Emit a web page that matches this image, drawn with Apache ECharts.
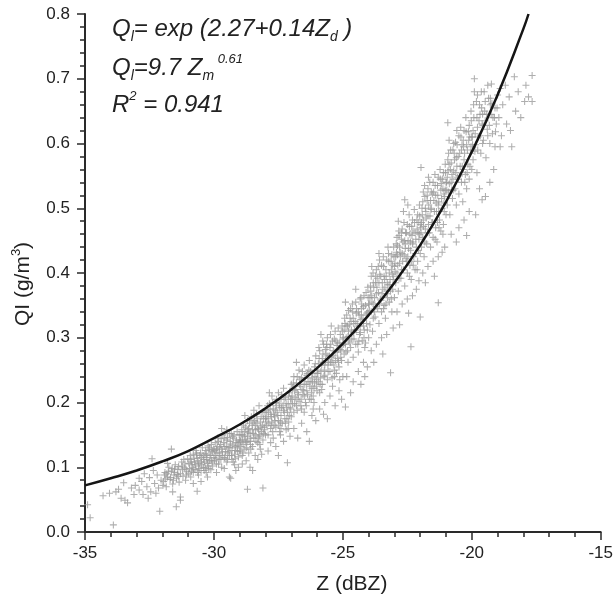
<!DOCTYPE html>
<html>
<head>
<meta charset="utf-8">
<script src="https://cdn.jsdelivr.net/npm/echarts@6/dist/echarts.min.js"></script>
<style>
  html, body { margin: 0; padding: 0; background: #fff; }
  #main { width: 616px; height: 604px; }
</style>
</head>
<body>
<div id="main"></div>
<script>
// tick labels
var xTicks = [-35, -30, -25, -20, -15];
var yTicks = [0.0, 0.1, 0.2, 0.3, 0.4, 0.5, 0.6, 0.7, 0.8];

// fitted curve
var curveZ = [-35, -34, -33, -32, -31, -30, -29, -28, -27, -26, -25, -24, -23, -22, -21, -20, -19, -18, -17.8];
var curveQ = [0.072, 0.083, 0.095, 0.109, 0.125, 0.145, 0.166, 0.191, 0.220, 0.253, 0.291, 0.335, 0.385, 0.443, 0.510, 0.587, 0.675, 0.777, 0.800];

var cloudLow = [
  [-34.9,.042],[-34.8,.022],[-34.3,.056],[-34.05,.060],
  [-33.9,.011],[-33.8,.062],[-33.6,.052],[-33.5,.076],[-33.45,.049],[-33.35,.045],[-33.2,.068],[-33.1,.058],[-33.05,.072],[-33.7,.066],
  [-32.9,.065],[-32.8,.078],[-32.75,.058],[-32.6,.070],[-32.5,.084],[-32.45,.062],[-32.3,.075],[-32.2,.088],[-32.15,.068],[-32.1,.032],[-32.05,.080],[-32.7,.090],[-32.35,.095],[-32.55,.052],[-32.9,.083],[-32.25,.060],[-32.4,.113],
  [-31.95,.078],[-31.9,.092],[-31.85,.070],[-31.8,.085],[-31.75,.100],[-31.7,.081],[-31.65,.094],[-31.6,.074],[-31.55,.088],[-31.5,.104],[-31.46,.039],[-31.45,.083],[-31.4,.097],[-31.35,.077],[-31.3,.090],[-31.3,.054],[-31.25,.108],[-31.2,.086],[-31.15,.099],[-31.1,.080],[-31.05,.093],[-31.02,.113],[-31.8,.106],[-31.6,.062],[-31.3,.049],[-31.65,.128],
  [-30.95,.098],[-30.9,.112],[-30.9,.085],[-30.85,.104],[-30.8,.120],[-30.8,.092],[-30.75,.108],[-30.7,.096],[-30.7,.126],[-30.65,.063],[-30.65,.114],[-30.6,.102],[-30.6,.088],[-30.55,.118],[-30.5,.108],[-30.5,.095],[-30.45,.130],[-30.4,.112],[-30.4,.100],[-30.35,.121],[-30.3,.092],[-30.3,.115],[-30.25,.106],[-30.2,.127],[-30.2,.098],[-30.15,.118],[-30.1,.110],[-30.1,.135],[-30.05,.102],[-30.05,.124],[-30.5,.078],[-30.25,.085],[-30.0,.115],[-30.8,.075],
  [-29.95,.118],[-29.95,.138],[-29.9,.105],[-29.9,.128],[-29.85,.145],[-29.8,.112],[-29.8,.122],[-29.75,.135],[-29.7,.100],[-29.7,.128],[-29.65,.150],[-29.6,.115],[-29.6,.132],[-29.55,.124],[-29.5,.108],[-29.5,.142],[-29.45,.130],[-29.4,.085],[-29.4,.118],[-29.4,.152],[-29.35,.136],[-29.3,.112],[-29.3,.126],[-29.25,.145],[-29.2,.120],[-29.2,.104],[-29.15,.138],[-29.1,.130],[-29.1,.155],[-29.05,.116],[-29.0,.142],[-29.0,.125],[-29.9,.092],[-29.6,.098],[-29.35,.083],[-29.15,.095],[-29.7,.160],[-29.25,.108],[-29.5,.158],[-29.05,.100],
  [-28.95,.132],[-28.95,.150],[-28.9,.118],[-28.9,.142],[-28.85,.165],[-28.8,.128],[-28.8,.155],[-28.75,.138],[-28.7,.066],[-28.7,.148],[-28.7,.172],[-28.65,.122],[-28.65,.160],[-28.6,.140],[-28.6,.152],[-28.55,.178],[-28.5,.132],[-28.5,.158],[-28.45,.145],[-28.4,.118],[-28.4,.165],[-28.4,.150],[-28.35,.182],[-28.3,.138],[-28.3,.160],[-28.25,.148],[-28.2,.170],[-28.2,.128],[-28.15,.155],[-28.1,.068],[-28.1,.142],[-28.1,.185],[-28.05,.162],[-28.0,.150],[-28.0,.175],[-28.9,.105],[-28.6,.100],[-28.3,.112],[-28.5,.095],[-28.15,.120],[-28.8,.180],[-28.45,.188],[-28.25,.195],[-28.75,.110]
];
var cloudMid = [
  [-27.95,.165],[-27.95,.188],[-27.9,.150],[-27.9,.175],[-27.85,.198],[-27.8,.160],[-27.8,.182],[-27.75,.170],[-27.75,.210],[-27.7,.145],[-27.7,.190],[-27.65,.178],[-27.6,.162],[-27.6,.200],[-27.55,.185],[-27.5,.172],[-27.5,.215],[-27.45,.155],[-27.45,.192],[-27.4,.180],[-27.4,.205],[-27.35,.168],[-27.3,.188],[-27.3,.222],[-27.25,.175],[-27.2,.158],[-27.2,.198],[-27.15,.185],[-27.1,.170],[-27.1,.210],[-27.05,.192],[-27.0,.178],[-27.0,.228],[-27.9,.125],[-27.6,.132],[-27.3,.140],[-27.15,.107],[-27.5,.118],[-27.05,.148],[-27.8,.138],[-27.4,.160],[-27.85,.215],
  [-26.95,.198],[-26.95,.222],[-26.9,.185],[-26.9,.240],[-26.85,.208],[-26.8,.195],[-26.8,.230],[-26.75,.215],[-26.7,.250],[-26.7,.202],[-26.65,.225],[-26.6,.190],[-26.6,.238],[-26.55,.212],[-26.5,.258],[-26.5,.228],[-26.45,.200],[-26.4,.242],[-26.4,.218],[-26.35,.232],[-26.3,.265],[-26.3,.205],[-26.25,.248],[-26.2,.222],[-26.2,.238],[-26.15,.210],[-26.1,.255],[-26.1,.230],[-26.05,.272],[-26.0,.218],[-26.0,.245],[-26.9,.160],[-26.6,.168],[-26.4,.155],[-26.2,.180],[-26.05,.172],[-26.75,.145],[-26.3,.140],[-26.5,.185],[-26.8,.262],[-26.15,.190],
  [-25.95,.232],[-25.95,.260],[-25.9,.215],[-25.9,.280],[-25.85,.248],[-25.8,.228],[-25.8,.268],[-25.75,.290],[-25.7,.242],[-25.7,.258],[-25.65,.275],[-25.6,.235],[-25.6,.300],[-25.55,.262],[-25.5,.248],[-25.5,.285],[-25.45,.270],[-25.4,.225],[-25.4,.295],[-25.35,.258],[-25.3,.278],[-25.3,.310],[-25.25,.245],[-25.2,.268],[-25.2,.292],[-25.15,.255],[-25.1,.282],[-25.1,.305],[-25.05,.265],[-25.0,.240],[-25.0,.298],[-25.9,.190],[-25.7,.200],[-25.5,.210],[-25.3,.195],[-25.15,.218],[-25.6,.175],[-25.05,.205],[-25.85,.305],[-25.45,.318],[-25.75,.182],
  [-24.95,.275],[-24.95,.312],[-24.9,.193],[-24.9,.290],[-24.85,.335],[-24.8,.262],[-24.8,.302],[-24.75,.320],[-24.7,.285],[-24.7,.345],[-24.65,.298],[-24.6,.270],[-24.6,.330],[-24.55,.312],[-24.5,.290],[-24.5,.355],[-24.45,.322],[-24.4,.278],[-24.4,.340],[-24.35,.305],[-24.3,.328],[-24.3,.362],[-24.25,.295],[-24.2,.318],[-24.2,.348],[-24.15,.285],[-24.1,.335],[-24.1,.370],[-24.05,.312],[-24.0,.300],[-24.0,.352],[-24.85,.240],[-24.6,.232],[-24.4,.248],[-24.2,.262],[-24.05,.255],[-24.7,.215],[-24.3,.228],[-24.5,.375],[-24.9,.355],[-24.15,.240]
];
var cloudHigh = [
  [-23.95,.320],[-23.95,.362],[-23.9,.340],[-23.9,.395],[-23.85,.310],[-23.8,.352],[-23.8,.378],[-23.75,.332],[-23.7,.368],[-23.7,.405],[-23.65,.345],[-23.6,.322],[-23.6,.385],[-23.55,.360],[-23.5,.340],[-23.5,.412],[-23.45,.375],[-23.4,.350],[-23.4,.395],[-23.35,.330],[-23.3,.368],[-23.3,.420],[-23.25,.382],[-23.2,.355],[-23.2,.400],[-23.15,.372],[-23.1,.340],[-23.1,.428],[-23.05,.390],[-23.0,.362],[-23.0,.410],[-23.9,.280],[-23.7,.290],[-23.5,.300],[-23.3,.305],[-23.15,.246],[-23.05,.315],[-23.8,.262],[-23.45,.275],[-23.6,.430],[-23.25,.440],
  [-22.95,.385],[-22.95,.425],[-22.9,.400],[-22.9,.455],[-22.85,.372],[-22.8,.415],[-22.8,.440],[-22.75,.392],[-22.7,.430],[-22.7,.468],[-22.65,.405],[-22.6,.380],[-22.6,.450],[-22.6,.513],[-22.55,.422],[-22.5,.400],[-22.5,.475],[-22.45,.438],[-22.4,.412],[-22.4,.460],[-22.36,.286],[-22.35,.390],[-22.3,.445],[-22.3,.482],[-22.25,.425],[-22.2,.405],[-22.2,.462],[-22.15,.440],[-22.1,.418],[-22.1,.490],[-22.05,.452],[-22.0,.430],[-22.0,.332],[-22.0,.475],[-22.9,.340],[-22.7,.352],[-22.5,.360],[-22.3,.365],[-22.15,.375],[-22.8,.320],[-22.45,.338],[-22.05,.388],[-22.85,.480],[-22.65,.495],
  [-21.95,.440],[-21.95,.478],[-21.9,.455],[-21.9,.510],[-21.85,.425],[-21.8,.468],[-21.8,.500],[-21.75,.445],[-21.7,.488],[-21.7,.530],[-21.65,.462],[-21.6,.440],[-21.6,.512],[-21.55,.478],[-21.5,.455],[-21.5,.540],[-21.45,.495],[-21.4,.470],[-21.4,.520],[-21.35,.448],[-21.3,.505],[-21.3,.354],[-21.3,.548],[-21.25,.482],[-21.2,.465],[-21.2,.528],[-21.15,.500],[-21.1,.475],[-21.1,.555],[-21.05,.518],[-21.0,.490],[-21.0,.540],[-21.97,.563],[-21.9,.400],[-21.7,.410],[-21.5,.418],[-21.3,.425],[-21.15,.432],[-21.8,.385],[-21.45,.395],[-21.05,.440],
  [-20.95,.505],[-20.95,.548],[-20.93,.632],[-20.9,.525],[-20.9,.585],[-20.85,.490],[-20.8,.540],[-20.8,.570],[-20.75,.515],[-20.7,.558],[-20.7,.600],[-20.65,.530],[-20.6,.505],[-20.6,.578],[-20.55,.548],[-20.5,.522],[-20.5,.612],[-20.45,.565],[-20.4,.540],[-20.4,.590],[-20.35,.510],[-20.3,.575],[-20.3,.620],[-20.25,.552],[-20.2,.530],[-20.2,.598],[-20.15,.568],[-20.1,.545],[-20.1,.628],[-20.05,.585],[-20.0,.560],[-20.0,.610],[-20.8,.460],[-20.5,.470],[-20.3,.482],[-20.1,.495],[-20.6,.448],[-20.2,.458],
  [-19.95,.575],[-19.95,.620],[-19.9,.700],[-19.9,.680],[-19.85,.598],[-19.8,.555],[-19.8,.640],[-19.75,.610],[-19.7,.660],[-19.65,.585],[-19.6,.630],[-19.55,.605],[-19.5,.650],[-19.47,.518],[-19.45,.578],[-19.4,.622],[-19.35,.670],[-19.3,.600],[-19.25,.645],[-19.24,.692],[-19.2,.615],[-19.15,.560],[-19.1,.655],[-19.05,.630],[-19.0,.675],[-19.85,.490],[-19.6,.513],[-19.3,.540],[-19.7,.530],[-19.1,.595],
  [-18.95,.640],[-18.9,.685],[-18.85,.612],[-18.8,.660],[-18.7,.690],[-18.65,.630],[-18.55,.672],[-18.5,.620],[-18.45,.595],[-18.35,.703],[-18.3,.650],[-18.2,.680],[-18.1,.640],[-18.9,.595],
  [-17.95,.665],[-17.8,.672],[-17.66,.705],[-17.66,.665],[-17.9,.690]
];
var cloudCore = [
  [-31.92,.088],[-31.77,.093],[-31.62,.098],[-31.52,.092],[-31.37,.101],[-31.22,.096],[-31.12,.105],[-31.07,.088],[-31.42,.089],[-31.87,.082],[-31.57,.080],[-31.17,.112],
  [-30.97,.106],[-30.92,.118],[-30.82,.100],[-30.77,.114],[-30.72,.104],[-30.62,.110],[-30.57,.098],[-30.52,.122],[-30.47,.104],[-30.42,.118],[-30.37,.108],[-30.32,.126],[-30.27,.112],[-30.22,.102],[-30.17,.130],[-30.12,.118],[-30.07,.108],[-30.02,.128],[-30.87,.094],[-30.67,.119],[-30.32,.099],[-30.12,.096],
  [-29.97,.126],[-29.92,.114],[-29.87,.132],[-29.82,.140],[-29.77,.118],[-29.72,.144],[-29.67,.124],[-29.62,.138],[-29.57,.114],[-29.52,.132],[-29.47,.146],[-29.42,.124],[-29.37,.140],[-29.32,.118],[-29.27,.134],[-29.22,.150],[-29.17,.126],[-29.12,.142],[-29.07,.134],[-29.02,.150],[-29.82,.105],[-29.47,.112],[-29.17,.113],
  [-28.97,.140],[-28.92,.158],[-28.87,.135],[-28.82,.148],[-28.77,.162],[-28.72,.140],[-28.67,.154],[-28.62,.168],[-28.57,.145],[-28.52,.165],[-28.47,.152],[-28.42,.172],[-28.37,.140],[-28.32,.175],[-28.27,.158],[-28.22,.150],[-28.17,.178],[-28.12,.165],[-28.07,.152],[-28.02,.185],[-28.87,.122],[-28.57,.128],[-28.22,.135],
  [-27.97,.178],[-27.92,.195],[-27.87,.168],[-27.82,.190],[-27.77,.178],[-27.72,.200],[-27.67,.165],[-27.62,.188],[-27.57,.205],[-27.52,.180],[-27.47,.198],[-27.42,.170],[-27.37,.212],[-27.32,.195],[-27.27,.185],[-27.22,.208],[-27.17,.175],[-27.12,.198],[-27.07,.215],[-27.02,.190],[-27.72,.155],[-27.42,.150],[-27.12,.160],
  [-26.97,.210],[-26.92,.230],[-26.87,.198],[-26.82,.220],[-26.77,.240],[-26.72,.212],[-26.67,.235],[-26.62,.205],[-26.57,.248],[-26.52,.218],[-26.47,.238],[-26.42,.228],[-26.37,.212],[-26.32,.250],[-26.27,.232],[-26.22,.215],[-26.17,.245],[-26.12,.222],[-26.07,.260],[-26.02,.235],[-26.77,.188],[-26.42,.195],[-26.12,.200],
  [-25.97,.245],[-25.92,.268],[-25.87,.238],[-25.82,.258],[-25.77,.275],[-25.72,.250],[-25.67,.265],[-25.62,.285],[-25.57,.248],[-25.52,.272],[-25.47,.290],[-25.42,.262],[-25.37,.280],[-25.32,.250],[-25.27,.295],[-25.22,.278],[-25.17,.262],[-25.12,.292],[-25.07,.280],[-25.02,.310],[-25.82,.220],[-25.42,.238],[-25.12,.235],
  [-24.97,.290],[-24.92,.322],[-24.87,.300],[-24.82,.318],[-24.77,.295],[-24.72,.330],[-24.67,.312],[-24.62,.340],[-24.57,.298],[-24.52,.325],[-24.47,.345],[-24.42,.318],[-24.37,.335],[-24.32,.308],[-24.27,.352],[-24.22,.330],[-24.17,.312],[-24.12,.350],[-24.07,.338],[-24.02,.362],[-24.82,.280],[-24.42,.290],[-24.12,.292],
  [-23.97,.342],[-23.92,.372],[-23.87,.355],[-23.82,.385],[-23.77,.362],[-23.72,.348],[-23.67,.392],[-23.62,.370],[-23.57,.398],[-23.52,.358],[-23.47,.385],[-23.42,.410],[-23.37,.378],[-23.32,.395],[-23.27,.362],[-23.22,.418],[-23.17,.390],[-23.12,.405],[-23.07,.375],[-23.02,.425],[-23.82,.330],[-23.42,.345],[-23.12,.360],
  [-22.97,.402],[-22.92,.432],[-22.87,.412],[-22.82,.458],[-22.77,.425],[-22.72,.405],[-22.67,.448],[-22.62,.428],[-22.57,.462],[-22.52,.418],[-22.47,.450],[-22.42,.472],[-22.37,.435],[-22.32,.458],[-22.27,.412],[-22.22,.478],[-22.17,.452],[-22.12,.468],[-22.07,.435],[-22.02,.488],[-22.82,.392],[-22.42,.395],[-22.12,.405],
  [-21.97,.462],[-21.92,.490],[-21.87,.472],[-21.82,.518],[-21.77,.485],[-21.72,.462],[-21.67,.505],[-21.62,.488],[-21.57,.525],[-21.52,.478],[-21.47,.512],[-21.42,.535],[-21.37,.495],[-21.32,.520],[-21.27,.470],[-21.22,.545],[-21.17,.515],[-21.12,.530],[-21.07,.495],[-21.02,.555],[-21.82,.448],[-21.42,.452],[-21.12,.460],
  [-20.97,.528],[-20.92,.558],[-20.87,.538],[-20.82,.590],[-20.77,.552],[-20.72,.528],[-20.67,.575],[-20.62,.555],[-20.57,.598],[-20.52,.545],[-20.47,.585],[-20.42,.610],[-20.37,.565],[-20.32,.595],[-20.27,.540],[-20.22,.618],[-20.17,.590],[-20.12,.605],[-20.07,.565],[-20.02,.635],
  [-19.97,.598],[-19.92,.640],[-19.87,.615],[-19.82,.665],[-19.77,.590],[-19.72,.635],[-19.67,.612],[-19.62,.655],[-19.57,.628],[-19.52,.680],[-19.42,.645],[-19.32,.628],[-19.22,.662],[-19.12,.640],[-19.02,.655]
];
var cloudUpper = [
  [-25.93,.285],[-25.78,.295],[-25.63,.290],[-25.48,.305],[-25.33,.298],[-25.18,.315],[-25.03,.318],[-25.58,.272],[-25.23,.288],
  [-24.93,.330],[-24.78,.342],[-24.63,.352],[-24.48,.338],[-24.33,.360],[-24.18,.365],[-24.03,.378],[-24.88,.318],[-24.58,.322],[-24.28,.345],
  [-23.93,.380],[-23.83,.400],[-23.73,.385],[-23.63,.410],[-23.53,.395],[-23.43,.425],[-23.33,.405],[-23.23,.430],[-23.13,.418],[-23.03,.440],[-23.88,.410],[-23.58,.420],[-23.28,.385],[-23.08,.398],
  [-22.93,.445],[-22.83,.465],[-22.73,.452],[-22.63,.478],[-22.53,.462],[-22.43,.490],[-22.33,.472],[-22.23,.498],[-22.13,.482],[-22.03,.505],[-22.88,.428],[-22.58,.438],[-22.28,.448],[-22.08,.462],[-22.48,.505],
  [-21.93,.500],[-21.83,.535],[-21.73,.512],[-21.63,.540],[-21.53,.522],[-21.43,.552],[-21.33,.535],[-21.23,.560],[-21.13,.545],[-21.03,.568],[-21.88,.525],[-21.58,.500],[-21.28,.510],[-21.08,.522],[-21.68,.548],
  [-20.93,.575],[-20.83,.560],[-20.73,.590],[-20.63,.602],[-20.53,.580],[-20.43,.625],[-20.33,.605],[-20.23,.640],[-20.13,.618],[-20.03,.650],[-20.88,.605],[-20.58,.620],
  [-19.93,.660],[-19.78,.675],[-19.63,.680],[-19.48,.665],[-19.38,.690],[-19.58,.645],[-19.28,.660]
];
var cloudFill = [
  [-31.98,.072],[-31.83,.090],[-31.68,.084],[-31.53,.097],[-31.38,.086],[-31.23,.102],[-31.08,.097],
  [-30.98,.090],[-30.88,.108],[-30.78,.097],[-30.68,.122],[-30.58,.106],[-30.48,.115],[-30.38,.095],[-30.28,.120],[-30.18,.110],[-30.08,.125],[-30.63,.092],[-30.23,.133],
  [-29.98,.110],[-29.88,.122],[-29.78,.130],[-29.68,.118],[-29.58,.145],[-29.48,.122],[-29.38,.130],[-29.28,.148],[-29.18,.132],[-29.08,.124],[-29.73,.112],[-29.33,.152],[-29.03,.138],
  [-28.98,.125],[-28.88,.150],[-28.78,.142],[-28.68,.158],[-28.58,.135],[-28.48,.170],[-28.38,.158],[-28.28,.145],[-28.18,.162],[-28.08,.175],[-28.73,.130],[-28.33,.168],[-28.03,.158],
  [-27.98,.170],[-27.88,.185],[-27.78,.165],[-27.68,.182],[-27.58,.195],[-27.48,.165],[-27.38,.192],[-27.28,.205],[-27.18,.192],[-27.08,.180],[-27.63,.172],[-27.23,.168],[-27.03,.205],
  [-26.98,.205],[-26.88,.218],[-26.78,.205],[-26.68,.228],[-26.58,.220],[-26.48,.210],[-26.38,.245],[-26.28,.225],[-26.18,.232],[-26.08,.240],[-26.63,.195],[-26.23,.205],[-26.03,.225],
  [-25.98,.250],[-25.88,.228],[-25.78,.262],[-25.68,.282],[-25.58,.258],[-25.48,.262],[-25.38,.272],[-25.28,.265],[-25.18,.282],[-25.08,.270],[-25.73,.240],[-25.33,.240],[-25.03,.288],
  [-24.98,.300],[-24.88,.278],[-24.78,.310],[-24.68,.325],[-24.58,.308],[-24.48,.312],[-24.38,.295],[-24.28,.335],[-24.18,.300],[-24.08,.322],[-24.73,.292],[-24.33,.318],[-24.03,.340],
  [-23.98,.352],[-23.88,.365],[-23.78,.340],[-23.68,.378],[-23.58,.352],[-23.48,.368],[-23.38,.390],[-23.28,.372],[-23.18,.382],[-23.08,.412],[-23.73,.395],[-23.33,.352],[-23.03,.395],
  [-22.98,.415],[-22.88,.442],[-22.78,.432],[-22.68,.418],[-22.58,.445],[-22.48,.425],[-22.38,.448],[-22.28,.465],[-22.18,.430],[-22.08,.478],[-22.73,.462],[-22.33,.418],[-22.03,.460],
  [-21.98,.470],[-21.88,.482],[-21.78,.495],[-21.68,.475],[-21.58,.498],[-21.48,.525],[-21.38,.508],[-21.28,.495],[-21.18,.538],[-21.08,.508],[-21.73,.520],[-21.33,.478],[-21.03,.528],
  [-20.98,.540],[-20.88,.568],[-20.78,.528],[-20.68,.585],[-20.58,.565],[-20.48,.550],[-20.38,.598],[-20.28,.585],[-20.18,.555],[-20.08,.610],[-20.73,.545],[-20.33,.560],[-20.03,.595],
  [-19.98,.610],[-19.88,.588],[-19.78,.625],[-19.68,.645],[-19.58,.600],[-19.48,.635],[-19.38,.612],[-19.28,.670],[-19.18,.640],[-19.08,.618]
];

var chart = echarts.init(document.getElementById('main'));

var curveData = [];
for (var i = 0; i < curveZ.length; i++) {
  curveData.push([curveZ[i], curveQ[i]]);
}
var cloud = cloudLow.concat(cloudMid, cloudHigh, cloudCore, cloudUpper, cloudFill);

var axisColor = '#2a2a2a';
var font = 'Liberation Sans, Arial, sans-serif';
// small "+" marker
var plusMark = 'path://M0,4.25H10V5.75H0Z M4.25,0H5.75V10H4.25Z';

var mainTxt = { fontSize: 24, fontStyle: 'italic', fontFamily: font, fill: '#222', lineHeight: 30 };
var subTxt = { fontSize: 14, fontStyle: 'italic', fontFamily: font, fill: '#222', lineHeight: 8, verticalAlign: 'bottom' };
var supTxt = { fontSize: 13, fontStyle: 'italic', fontFamily: font, fill: '#222', lineHeight: 12, verticalAlign: 'top' };

var option = {
  animation: false,
  backgroundColor: '#fff',
  grid: { left: 85, right: 12, top: 14, bottom: 72 },
  xAxis: {
    type: 'value',
    min: xTicks[0],
    max: xTicks[xTicks.length - 1],
    interval: 5,
    name: 'Z (dBZ)',
    nameLocation: 'middle',
    nameGap: 42,
    nameTextStyle: { fontSize: 21, color: '#222', fontFamily: font, padding: [0, 0, 0, 18] },
    axisLine: { onZero: false, lineStyle: { color: axisColor, width: 2 } },
    axisTick: { length: 8, lineStyle: { color: axisColor, width: 1.5 } },
    minorTick: { show: true, splitNumber: 5, length: 5, lineStyle: { color: axisColor, width: 1.5 } },
    splitLine: { show: false },
    axisLabel: { fontSize: 17, color: '#222', margin: 13, fontFamily: font }
  },
  yAxis: {
    type: 'value',
    min: yTicks[0],
    max: yTicks[yTicks.length - 1],
    interval: 0.1,
    name: '{a|QI (g/m}{b|3}{a|)}',
    nameLocation: 'middle',
    nameGap: 49,
    nameTextStyle: {
      padding: [0, 22, 0, 0],
      rich: {
        a: { fontSize: 21, color: '#222', fontFamily: font, lineHeight: 26 },
        b: { fontSize: 13, color: '#222', fontFamily: font, verticalAlign: 'top', lineHeight: 12 }
      }
    },
    axisLine: { onZero: false, lineStyle: { color: axisColor, width: 2 } },
    axisTick: { length: 8, lineStyle: { color: axisColor, width: 1.5 } },
    minorTick: { show: true, splitNumber: 5, length: 5, lineStyle: { color: axisColor, width: 1.5 } },
    splitLine: { show: false },
    axisLabel: {
      fontSize: 17, color: '#222', margin: 15, fontFamily: font,
      formatter: function (v) { return v.toFixed(1); }
    }
  },
  graphic: [
    {
      type: 'text', left: 112, top: 17,
      style: {
        text: '{m|Q}{s|l}{m|= exp (2.27+0.14Z}{s|d}{m| )}',
        rich: { m: mainTxt, s: subTxt }
      }
    },
    {
      type: 'text', left: 112, top: 53,
      style: {
        text: '{m|Q}{s|l}{m|=9.7 Z}{s|m}{p| 0.61}',
        rich: { m: mainTxt, s: subTxt, p: supTxt }
      }
    },
    {
      type: 'text', left: 112, top: 90,
      style: {
        text: '{m|R}{p|2}{m| = 0.941}',
        rich: { m: mainTxt, p: supTxt }
      }
    }
  ],
  series: [
    {
      type: 'scatter',
      data: cloud,
      symbol: plusMark,
      symbolSize: 7,
      itemStyle: { color: '#9a9a9a' },
      silent: true,
      z: 2
    },
    {
      type: 'line',
      data: curveData,
      smooth: true,
      showSymbol: false,
      lineStyle: { color: '#151515', width: 2.5 },
      silent: true,
      z: 3
    }
  ]
};

chart.setOption(option);

window.onresize = function () {
  chart.resize();
};
</script>
</body>
</html>
